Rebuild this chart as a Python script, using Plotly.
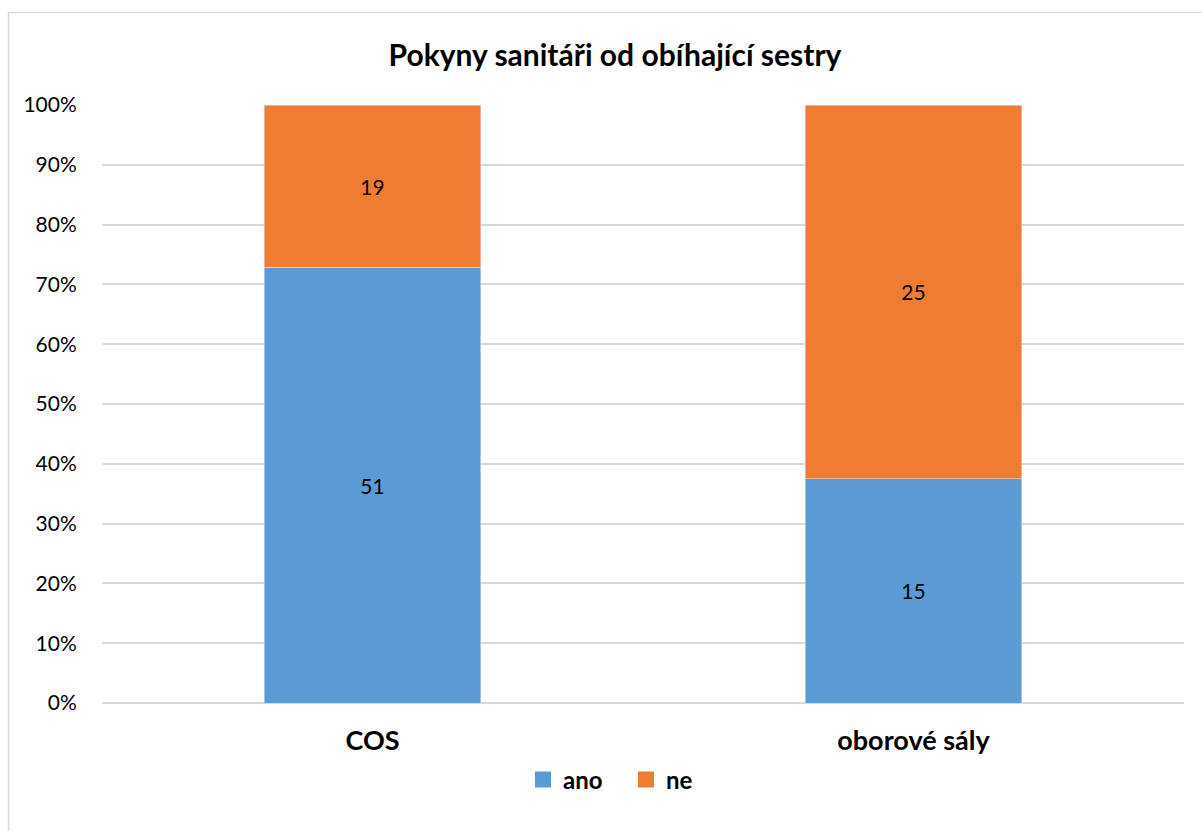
import plotly.graph_objects as go

# Data: counts of answers per department
categories = ["COS", "oborové sály"]
ano = [51, 15]
ne = [19, 25]
tick_vals = [0, 10, 20, 30, 40, 50, 60, 70, 80, 90, 100]
tick_text = [f"{v}%" for v in tick_vals]

BLUE = "#5B9BD5"
ORANGE = "#ED7D31"
FONT = "Lato, 'Open Sans', sans-serif"

fig = go.Figure()
for name, vals, color in [("ano", ano, BLUE), ("ne", ne, ORANGE)]:
    fig.add_trace(go.Bar(
        x=categories, y=vals, name=name, marker_color=color,
        text=vals, textposition="inside", insidetextanchor="middle",
        textfont=dict(size=21, color="black", family=FONT),
        showlegend=False, legendgroup=name,
    ))
# Legend entries with larger square keys
for name, color in [("ano", BLUE), ("ne", ORANGE)]:
    fig.add_trace(go.Scatter(
        x=[None], y=[None], mode="markers", name=f"<b>{name}</b>",
        marker=dict(symbol="square", size=16, color=color),
        legendgroup=name, showlegend=True,
    ))

L, R, T, B = 102, 18, 105, 128
W, H = 1202, 831
pw, ph = W - L - R, H - T - B

fig.update_layout(
    width=W, height=H,
    barmode="stack", barnorm="percent", bargap=0.6,
    margin=dict(l=L, r=R, t=T, b=B),
    paper_bgcolor="white", plot_bgcolor="white",
    font=dict(family=FONT, color="black"),
    title=dict(text="<b>Pokyny sanitáři od obíhající sestry</b>",
               x=(615 - L) / pw, xref="paper", xanchor="center",
               y=1 - 55 / H, yanchor="middle",
               font=dict(size=30, family=FONT, color="black")),
    legend=dict(orientation="h", x=(523 - L) / pw, xanchor="left",
                y=(H - B - 780) / ph, yanchor="middle",
                font=dict(size=24, family=FONT, color="black"),
                itemwidth=30, entrywidth=58, entrywidthmode="pixels",
                traceorder="normal"),
    showlegend=True,
    uniformtext=dict(mode="show", minsize=10),
    shapes=[dict(type="rect", xref="paper", yref="paper",
                 x0=(8.5 - L) / pw, x1=(W + 10 - L) / pw,
                 y0=(H - B - (H + 10)) / ph, y1=1 + (T - 12.5) / ph,
                 line=dict(color="#d9d9d9", width=1.5), layer="below")],
)
fig.update_xaxes(
    showgrid=False, showline=False, ticks="outside", ticklen=14,
    tickcolor="rgba(0,0,0,0)",
    tickfont=dict(size=27, family=FONT, color="black"),
    tickprefix="<b>", ticksuffix="</b>",
)
fig.update_yaxes(
    range=[0, 100], tickvals=tick_vals, ticktext=tick_text,
    showgrid=True, gridcolor="#d9d9d9", gridwidth=1.5,
    zeroline=True, zerolinecolor="#d9d9d9", zerolinewidth=1.5,
    ticks="outside", ticklen=20, tickcolor="rgba(0,0,0,0)",
    tickfont=dict(size=21, family=FONT, color="black"),
)

fig.write_html("out.html")
